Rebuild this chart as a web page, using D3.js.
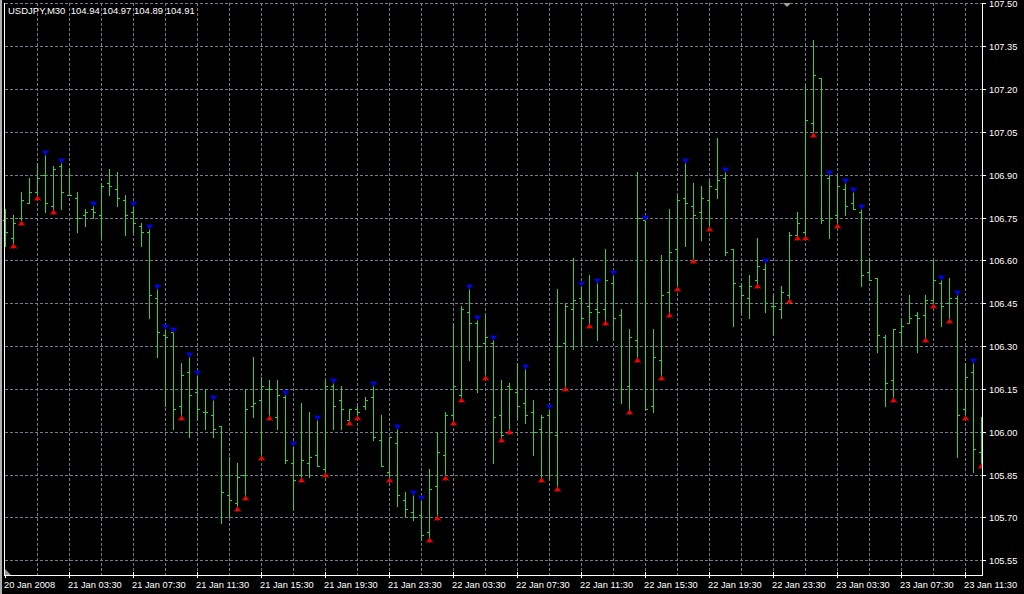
<!DOCTYPE html>
<html><head><meta charset="utf-8">
<script src="https://cdn.jsdelivr.net/npm/d3@7"></script>
<style>
html,body{margin:0;padding:0;background:#000;}
svg{display:block;}
text{font-family:"Liberation Sans",Arial,sans-serif;fill:#fff;}
</style></head><body>
<svg id="chart" width="1024" height="594"></svg>
<script>
const title = "USDJPY,M30\u00a0\u00a0104.94 104.97 104.89 104.91";
const opens = [106.74,106.68,106.75,106.80,106.84,106.90,106.79,106.93,106.83,106.82,106.76,106.78,106.76,106.87,106.85,106.81,106.77,106.72,106.70,106.47,
106.34,106.35,106.09,106.21,106.14,106.07,106.06,106.02,105.78,105.75,105.85,106.09,106.11,106.15,106.05,106.12,105.89,105.85,105.89,105.92,
105.87,106.16,106.11,106.04,106.08,106.09,106.12,105.97,105.86,105.96,105.76,105.72,105.71,105.65,105.81,105.92,106.06,106.13,106.42,106.38,
106.31,106.31,106.06,106.16,106.14,106.10,106.07,106.01,106.06,105.99,106.31,106.43,106.47,106.44,106.43,106.43,106.52,106.41,106.16,106.32,
106.74,106.09,106.25,106.49,106.64,106.82,106.79,106.77,106.81,106.85,106.89,106.64,106.51,106.47,106.53,106.57,106.44,106.43,106.48,106.69,
106.70,107.08,107.24,106.89,106.76,106.85,106.80,106.77,106.56,106.54,106.33,106.18,106.35,106.38,106.41,106.41,106.46,106.52,106.45,106.47,
106.08,106.21,105.93];
const highs = [106.78,106.76,106.84,106.89,106.94,106.97,106.93,106.94,106.92,106.84,106.78,106.79,106.87,106.92,106.91,106.83,106.79,106.73,106.71,106.50,
106.36,106.35,106.24,106.26,106.20,106.15,106.11,106.02,105.91,105.89,106.15,106.26,106.19,106.18,106.18,106.13,105.95,106.10,106.07,106.04,
106.18,106.17,106.16,106.08,106.09,106.12,106.16,106.06,105.98,106.01,105.79,105.78,105.76,105.87,106.00,106.07,106.38,106.44,106.50,106.39,
106.41,106.32,106.18,106.17,106.24,106.22,106.11,106.06,106.08,106.50,106.45,106.61,106.51,106.55,106.52,106.64,106.55,106.43,106.36,106.91,
106.74,106.36,106.62,106.78,106.83,106.94,106.87,106.86,106.88,107.03,106.91,106.64,106.52,106.55,106.68,106.59,106.48,106.51,106.70,106.77,
107.21,107.37,107.24,106.90,106.90,106.87,106.84,106.78,106.61,106.54,106.34,106.36,106.40,106.48,106.42,106.48,106.60,106.53,106.54,106.48,
106.24,106.24,106.05];
const lows = [106.65,106.66,106.74,106.80,106.83,106.77,106.78,106.78,106.83,106.70,106.72,106.75,106.68,106.83,106.79,106.69,106.70,106.65,106.40,106.26,
106.09,106.01,106.06,105.98,106.04,106.01,105.98,105.68,105.70,105.74,105.78,106.05,105.92,106.06,106.01,105.89,105.73,105.84,105.84,105.88,
105.86,106.01,106.01,106.04,106.06,106.08,105.97,105.88,105.84,105.74,105.70,105.69,105.62,105.63,105.71,105.85,106.04,106.12,106.25,106.14,
106.20,105.89,105.98,106.01,106.05,106.03,105.92,105.84,105.83,105.81,106.16,106.29,106.30,106.38,106.32,106.39,106.32,106.10,106.08,106.26,
106.08,106.07,106.20,106.42,106.51,106.65,106.61,106.67,106.72,106.82,106.62,106.37,106.42,106.40,106.52,106.42,106.34,106.40,106.47,106.69,
106.69,107.05,106.73,106.68,106.73,106.76,106.78,106.51,106.53,106.28,106.09,106.12,106.30,106.38,106.28,106.33,106.45,106.37,106.40,105.91,
106.06,105.86,105.89];
const closes = [106.70,106.73,106.81,106.84,106.89,106.80,106.92,106.84,106.83,106.75,106.77,106.77,106.86,106.86,106.82,106.76,106.73,106.70,106.48,106.35,
106.33,106.08,106.20,106.13,106.08,106.07,106.01,105.79,105.76,105.84,106.08,106.10,106.16,106.15,106.13,105.90,105.83,105.90,105.91,105.88,
106.16,106.09,106.08,106.08,106.07,106.11,105.98,105.88,105.98,105.78,105.73,105.70,105.64,105.80,105.93,106.06,106.16,106.43,106.38,106.30,
106.33,106.05,105.99,106.15,106.09,106.06,106.00,106.05,106.00,106.30,106.44,106.46,106.40,106.42,106.42,106.53,106.40,106.15,106.33,106.75,
106.08,106.26,106.48,106.63,106.81,106.80,106.76,106.82,106.86,106.88,106.63,106.52,106.48,106.51,106.58,106.45,106.44,106.49,106.69,106.73,
107.09,107.25,106.74,106.75,106.86,106.79,106.78,106.55,106.53,106.34,106.17,106.36,106.37,106.40,106.40,106.46,106.53,106.44,106.47,106.06,
106.19,105.94,105.91];
const upFractals = [5,7,11,16,18,19,20,21,23,24,26,35,36,39,41,46,49,51,52,58,59,61,65,68,72,74,76,80,85,90,95,103,105,106,107,117,119,121];
const downFractals = [1,2,4,6,22,29,30,32,33,37,40,43,44,48,53,54,55,56,57,60,62,63,67,69,70,73,75,78,79,82,83,84,86,88,94,98,99,100,101,104,111,115,116,118,120,122];
const priceTicks = [105.55,105.70,105.85,106.00,106.15,106.30,106.45,106.60,106.75,106.90,107.05,107.20,107.35,107.50];
const timeLabels = ["20 Jan 2008","21 Jan 03:30","21 Jan 07:30","21 Jan 11:30","21 Jan 15:30","21 Jan 19:30","21 Jan 23:30","22 Jan 03:30","22 Jan 07:30","22 Jan 11:30","22 Jan 15:30","22 Jan 19:30","22 Jan 23:30","23 Jan 03:30","23 Jan 07:30","23 Jan 11:30"];
const timeLabelBars = [0,8,16,24,32,40,48,56,64,72,80,88,96,104,112,120];

const svg = d3.select("#chart");
const W = 1024, H = 594;
const plotL = 4, plotR = 982, plotT = 3, plotB = 575;
const x = d3.scaleLinear().domain([0, opens.length - 1]).range([5, 5 + 8 * (opens.length - 1)]);
const y = d3.scaleLinear().domain([105.55, 107.50]).range([560.3, 3.3]);
const py = v => Math.round(y(v));

svg.append("rect").attr("width", W).attr("height", H).attr("fill", "#000");

// grid
const grid = svg.append("g").attr("stroke", "#708090").attr("stroke-width", 1).attr("stroke-dasharray", "3,2").attr("shape-rendering", "crispEdges");
grid.selectAll("line.h").data(priceTicks).enter().append("line")
  .attr("x1", plotL + 1).attr("x2", plotR).attr("y1", d => py(d) + 0.5).attr("y2", d => py(d) + 0.5);
const vgrid = d3.range(4, opens.length, 4);
grid.selectAll("line.v").data(vgrid).enter().append("line")
  .attr("x1", d => x(d) + 0.5).attr("x2", d => x(d) + 0.5).attr("y1", plotT).attr("y2", plotB);

// bars
const idx = d3.range(opens.length);
const bars = svg.append("g").attr("fill", "#22dd22").attr("shape-rendering", "crispEdges");
bars.selectAll("rect.hl").data(idx).enter().append("rect")
  .attr("x", i => x(i)).attr("y", i => py(highs[i]))
  .attr("width", 1).attr("height", i => py(lows[i]) - py(highs[i]) + 1);
bars.selectAll("rect.o").data(idx).enter().append("rect")
  .attr("x", i => x(i) - 2).attr("y", i => py(opens[i])).attr("width", 2).attr("height", 1);
bars.selectAll("rect.c").data(idx).enter().append("rect")
  .attr("x", i => x(i) + 1).attr("y", i => py(closes[i])).attr("width", 2).attr("height", 1);

// fractals
const upShape = [[-4,-3],[-1.2,-1.8],[0,-3],[1.2,-1.8],[4,-3],[1.3,0.6],[0,3],[-1.3,0.6]];
const dnShape = upShape.map(p => [p[0], -p[1]]);
const poly = (cx, cy, s) => s.map(p => (cx + 0.5 + p[0]) + "," + (cy + p[1])).join(" ");
svg.append("g").selectAll("polygon").data(upFractals).enter().append("polygon")
  .attr("points", i => poly(x(i), py(highs[i]) - 2, upShape)).attr("fill", "#0000ff");
svg.append("g").selectAll("polygon").data(downFractals).enter().append("polygon")
  .attr("points", i => poly(x(i), py(lows[i]) + 3, dnShape)).attr("fill", "#ff0000");

// frame
svg.append("rect").attr("x", 0).attr("y", 0).attr("width", 2).attr("height", H).attr("fill", "#b0b0b0");
svg.append("rect").attr("x", plotR + 1).attr("y", 0).attr("width", W - plotR - 1).attr("height", H).attr("fill", "#000");
svg.append("rect").attr("x", 0).attr("y", plotB + 1).attr("width", W).attr("height", H - plotB - 1).attr("fill", "#000");
svg.append("rect").attr("x", 0).attr("y", plotB + 1).attr("width", 2).attr("height", H - plotB - 1).attr("fill", "#b0b0b0");
const frame = svg.append("g").attr("stroke", "#fff").attr("stroke-width", 1).attr("shape-rendering", "crispEdges");
frame.append("line").attr("x1", plotL + 0.5).attr("x2", plotL + 0.5).attr("y1", plotT).attr("y2", plotB + 1);
frame.append("line").attr("x1", plotR + 0.5).attr("x2", plotR + 0.5).attr("y1", plotT).attr("y2", plotB + 1);
frame.append("line").attr("x1", plotL).attr("x2", plotR + 1).attr("y1", plotB + 0.5).attr("y2", plotB + 0.5);

// right axis
const ra = svg.append("g");
ra.selectAll("line").data(priceTicks).enter().append("line")
  .attr("x1", plotR).attr("x2", plotR + 4).attr("y1", d => py(d) + 0.5).attr("y2", d => py(d) + 0.5)
  .attr("stroke", "#fff").attr("shape-rendering", "crispEdges");
ra.selectAll("text").data(priceTicks).enter().append("text")
  .attr("x", 989).attr("y", d => py(d) + 3.5).attr("font-size", "9.3px")
  .text(d => d.toFixed(2));

// bottom axis
const ba = svg.append("g");
ba.selectAll("line").data(timeLabelBars).enter().append("line")
  .attr("x1", d => x(d) + 0.5).attr("x2", d => x(d) + 0.5).attr("y1", plotB - 3).attr("y2", plotB + 3)
  .attr("stroke", "#fff").attr("shape-rendering", "crispEdges");
ba.selectAll("text").data(timeLabelBars).enter().append("text")
  .attr("x", d => d === 0 ? 4 : x(d) - 1).attr("y", 588).attr("font-size", "9.3px")
  .text((d, i) => timeLabels[i]);

// markers
svg.append("polygon").attr("points", "5,569 5,575 11,575").attr("fill", "#9a9a9a");
svg.append("polygon").attr("points", "783,3 791,3 787,7").attr("fill", "#a0a0a0");

// title
svg.append("text").attr("x", 8).attr("y", 14).attr("font-size", "9.5px").text(title);
</script>
</body></html>
